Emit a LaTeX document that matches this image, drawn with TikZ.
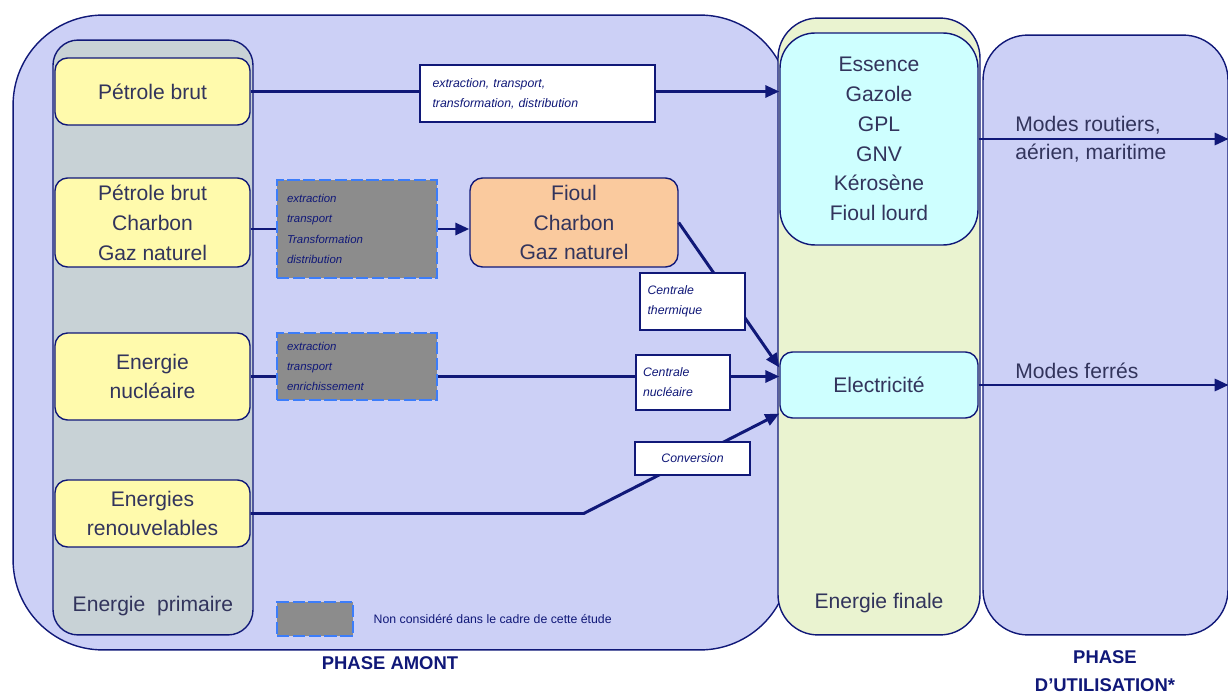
\documentclass[tikz,border=0pt]{standalone}
\usepackage{fontspec}
\setmainfont{Liberation Sans}
\usetikzlibrary{arrows.meta,positioning}
\definecolor{navy}{RGB}{16,24,120}
\definecolor{ink}{RGB}{50,52,92}
\definecolor{lav}{RGB}{204,208,246}
\definecolor{primc}{RGB}{200,210,214}
\definecolor{finc}{RGB}{234,243,208}
\definecolor{ylw}{RGB}{255,250,172}
\definecolor{orng}{RGB}{250,202,158}
\definecolor{cyanc}{RGB}{206,255,255}
\definecolor{chk}{RGB}{140,140,140}
\definecolor{dashblue}{RGB}{60,125,250}
\tikzset{
  zone/.style={draw=navy, line width=0.8pt, fill=lav, rounded corners=1.8cm, inner sep=0pt},
  col/.style={draw=navy, line width=0.8pt, rounded corners=0.5cm, inner sep=0pt},
  src/.style={draw=navy, line width=0.8pt, fill=ylw, rounded corners=0.25cm, align=center, text=ink, font=\fontsize{12}{17}\selectfont, inner sep=0pt},
  gbox/.style={draw=dashblue, line width=1.6pt, dash pattern=on 7pt off 2pt, fill=chk, align=left, text=navy, font=\fontsize{6.5}{11.5}\selectfont\itshape, inner sep=0pt},
  wbox/.style={draw=navy, line width=0.8pt, fill=white, align=left, text=navy, font=\fontsize{7}{11.5}\selectfont\itshape, inner sep=0pt},
  arr/.style={-{Triangle[length=2.8mm,width=2.4mm]}, line width=1.7pt, draw=navy},
  ln/.style={line width=1.7pt, draw=navy},
  lbl/.style={text=ink, font=\fontsize{12}{16}\selectfont, inner sep=0pt},
  lgd/.style={text=navy, font=\fontsize{7}{9}\selectfont, inner sep=0pt},
  phase/.style={text=navy, font=\fontsize{10.5}{16}\selectfont\bfseries, align=center},
}
\begin{document}
\begin{tikzpicture}[x=0.02cm, y=-0.02cm]
\useasboundingbox (0,0) rectangle (1228,696);
% zones
\node[zone, minimum width=15.54cm, minimum height=12.7cm] (amont) at (401.5,332.5) {};
\node[col, fill=primc, minimum width=4cm, minimum height=11.9cm] (prim) at (153,337.5) {};
\node[col, fill=finc, rounded corners=0.8cm, minimum width=4.04cm, minimum height=12.34cm] (fincol) at (879,326.5) {};
\node[zone, rounded corners=0.9cm, minimum width=4.9cm, minimum height=12cm] (util) at (1105.5,335) {};
\node[lbl, above=0.38cm of prim.south] (primlbl) {Energie\ \ primaire};
\node[lbl, above=0.45cm of fincol.south] (finlbl) {Energie finale};

% primary sources
\node[src, minimum width=3.9cm, minimum height=1.34cm] (pb) at (152.5,91.5) {Pétrole brut};
\node[src, minimum width=3.9cm, minimum height=1.78cm] (mix) at (152.5,222.5) {Pétrole brut\\Charbon\\Gaz naturel};
\node[src, minimum width=3.9cm, minimum height=1.74cm] (nuc) at (152.5,376.5) {Energie\\nucléaire};
\node[src, minimum width=3.9cm, minimum height=1.34cm] (ren) at (152.5,513.5) {Energies\\renouvelables};

% steps left out of the study
\node[gbox, minimum width=3.2cm, minimum height=1.96cm, text width=2.8cm] (grA) at (357,229) {extraction\\transport\\Transformation\\distribution};
\node[gbox, minimum width=3.2cm, minimum height=1.34cm, text width=2.8cm] (grB) at (357,366.5) {extraction\\transport\\enrichissement};
\node[gbox, minimum width=1.52cm, minimum height=0.68cm] (leg) at (315,619) {};
\node[lgd, right=0.38cm of leg] (legtxt) {Non considéré dans le cadre de cette étude};

% fuels
\node[src, fill=orng, minimum width=4.16cm, minimum height=1.78cm] (fi) at (574,222.5) {Fioul\\Charbon\\Gaz naturel};
\node[src, fill=cyanc, rounded corners=0.7cm, minimum width=3.96cm, minimum height=4.24cm] (ess) at (879,139) {Essence\\Gazole\\GPL\\GNV\\Kérosène\\Fioul lourd};
\node[src, fill=cyanc, minimum width=3.96cm, minimum height=1.32cm] (elec) at (879,385) {Electricité};

% flows
\draw[arr] (pb.east) -- (ess.west |- pb.east);
\draw[ln] (mix.east |- grA.west) -- (grA.west);
\draw[arr] (grA.east) -- (fi.west |- grA.east);
\draw[arr] (fi.east) -- (elec.170);
\draw[ln] (nuc.east) -- (nuc.east -| grB.west);
\draw[arr] (grB.east |- nuc.east) -- (elec.west |- nuc.east);
\draw[arr] (ren.east) -- ++(333,0) -- (elec.196);
\draw[arr] (ess.east) -- (ess.east -| util.east);
\draw[arr] (elec.east) -- (elec.east -| util.east);

% step labels on the flows
\node[wbox, minimum width=4.7cm, minimum height=1.14cm, text width=4.2cm] (etd) at (537.5,93.5) {extraction, transport,\\transformation, distribution};
\node[wbox, minimum width=2.1cm, minimum height=1.14cm, text width=1.8cm] (cth) at (692.5,301.5) {Centrale\\thermique};
\node[wbox, minimum width=1.88cm, minimum height=1.1cm, text width=1.6cm] (cnu) at (683,382.5) {Centrale\\nucléaire};
\node[wbox, minimum width=2.3cm, minimum height=0.66cm] (conv) at (692.5,458.5) {Conversion};

% uses
\node[lbl, anchor=west, align=left] (mr) at (1015,139) {Modes routiers,\\aérien, maritime};
\node[lbl, anchor=south west] (mf) at (1015,379) {Modes ferrés};
\node[phase] (pam) at (390,663) {PHASE AMONT};
\node[phase] (put) at (1105,671) {PHASE\\D'UTILISATION*};
\end{tikzpicture}
\end{document}
